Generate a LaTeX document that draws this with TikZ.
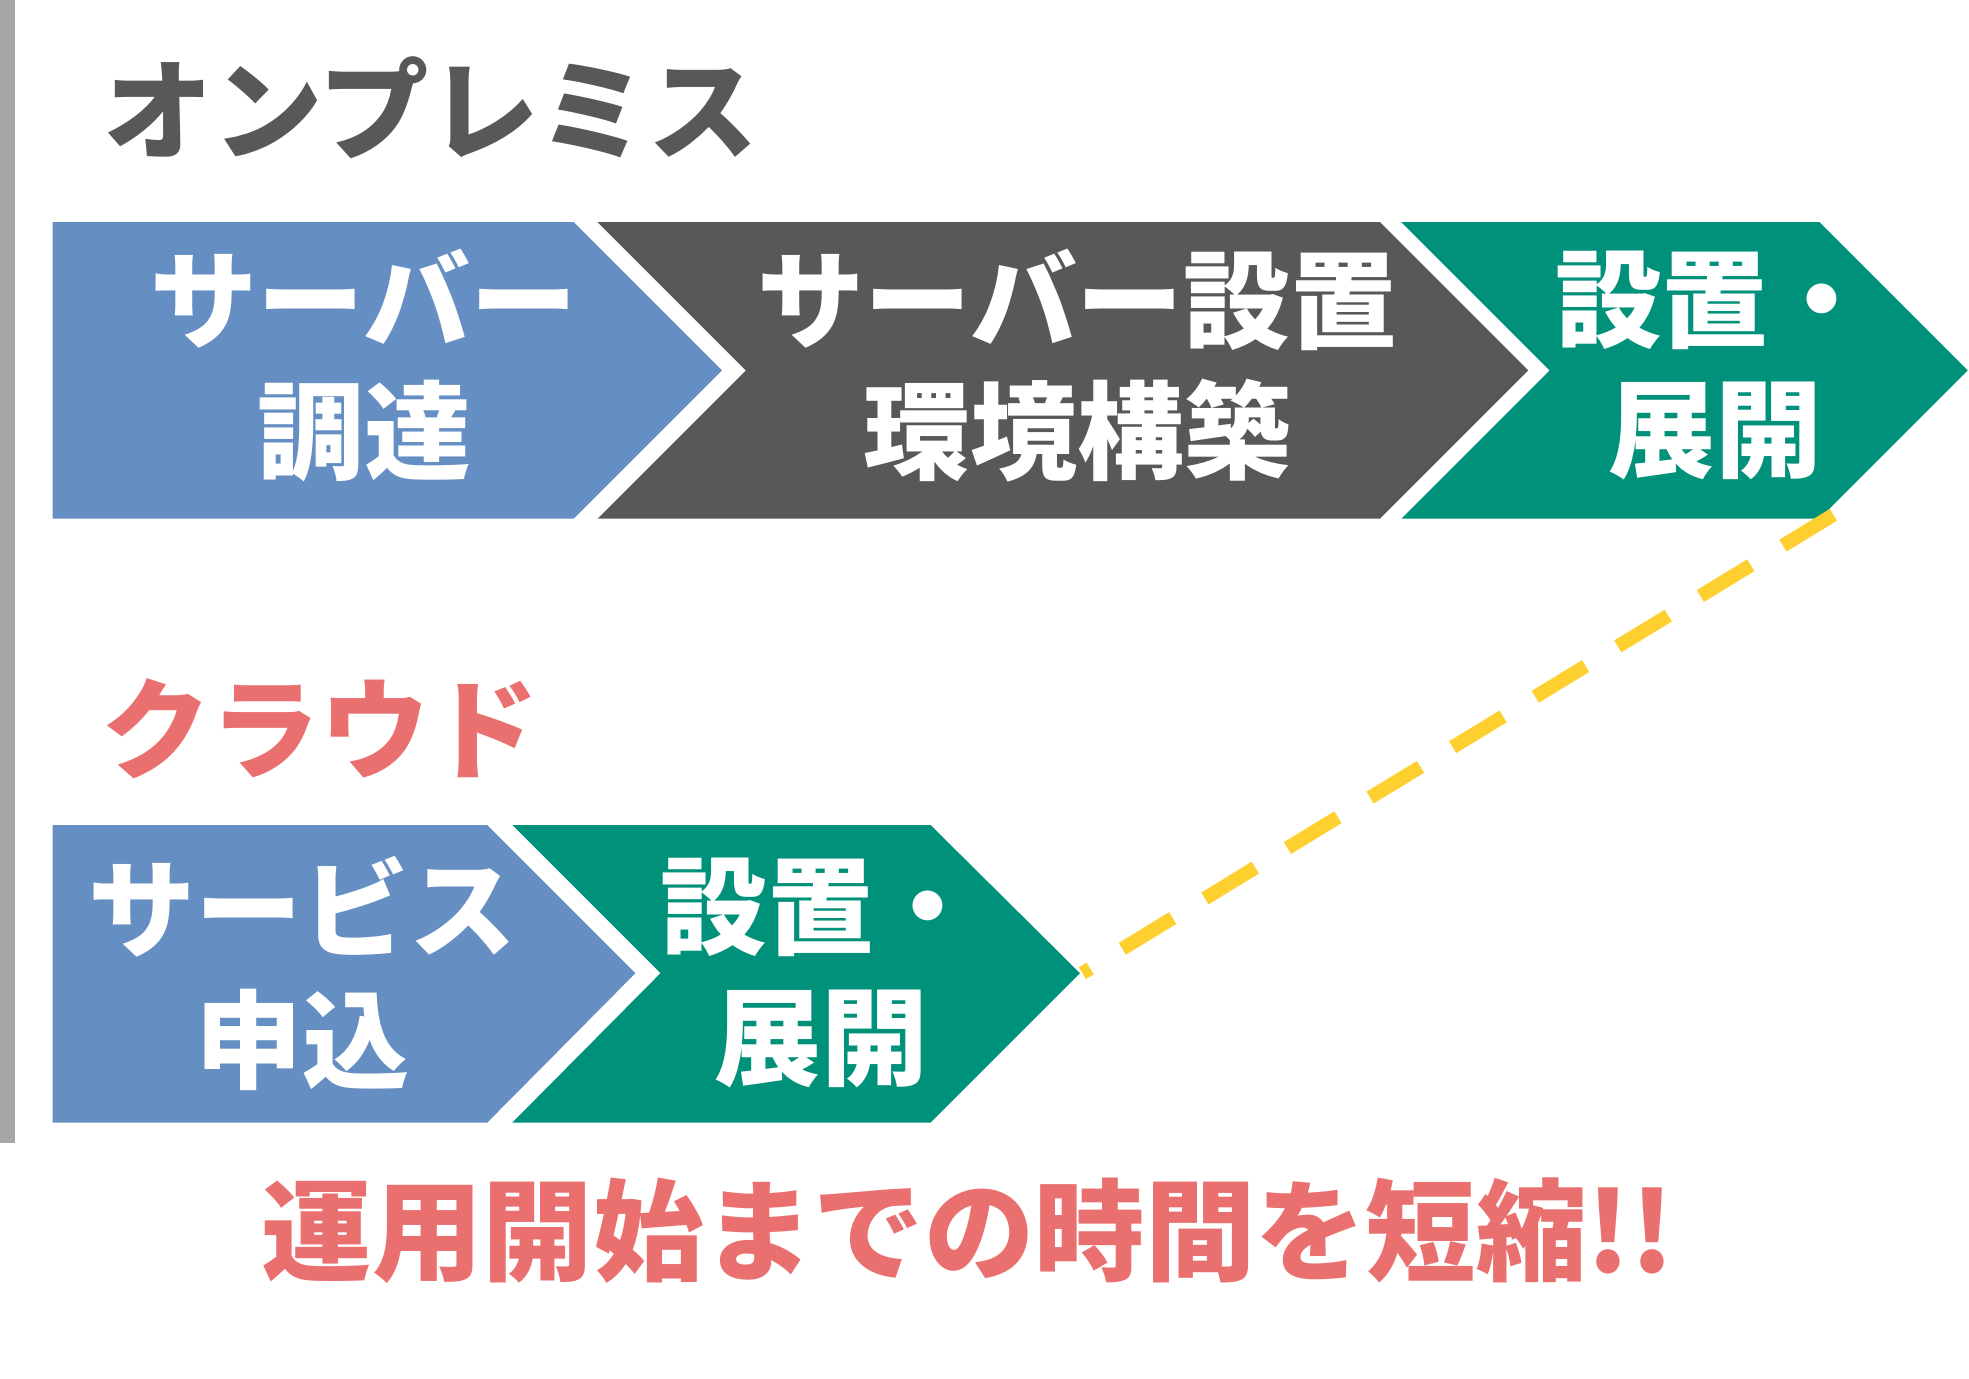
\documentclass[tikz,border=0pt]{standalone}
\usepackage{fontspec}
\setmainfont{Noto Sans CJK JP}
\usepackage{tikz}
\definecolor{planblue}{RGB}{101,142,194}
\definecolor{plangray}{RGB}{89,87,87}
\definecolor{plangreen}{RGB}{0,145,122}
\definecolor{plansalmon}{RGB}{234,112,112}
\definecolor{planyellow}{RGB}{253,208,47}
\definecolor{planbar}{RGB}{166,166,166}

\begin{document}
\begin{tikzpicture}[x=0.01cm,y=-0.01cm,
    steptext/.style={text=white,align=center,font=\fontsize{24.2}{29.6}\selectfont\bfseries},
    headtext/.style={font=\fontsize{24.8}{30}\selectfont\bfseries}]
          \useasboundingbox (0,0) rectangle (1568,1098);
          \fill [planbar] (0,0) rectangle (12,910);
          % on-premises row
          \fill [planblue] (42,177) -- (457,177) -- (575,295) -- (457,413) -- (42,413) -- cycle;
          \fill [plangray] (476,177) -- (1099,177) -- (1217,295) -- (1099,413) -- (476,413) -- (594,295) -- cycle;
          \fill [plangreen] (1116,177) -- (1449,177) -- (1567,295) -- (1449,413) -- (1116,413) -- (1234,295) -- cycle;
          % cloud row
          \fill [planblue] (42,657) -- (388,657) -- (506,775) -- (388,894) -- (42,894) -- cycle;
          \fill [plangreen] (408,657) -- (741,657) -- (860,775) -- (741,894) -- (408,894) -- (526,775) -- cycle;
          \node [headtext,text=plangray] (onprem) at (343,86) {オンプレミス};
          \node [headtext,text=plansalmon] (cloud) at (255,580) {クラウド};
          \node [steptext] (procure) at (290,291) {サーバー\\調達};
          \node [steptext] (setup) at (858,291) {サーバー設置\\環境構築};
          \node [steptext] (deploy) at (1366,291) {設置・\\展開};
          \node [steptext] (apply) at (241,775) {サービス\\申込};
          \node [steptext] (clouddeploy) at (654,775) {設置・\\展開};
          \coordinate (onpremend) at (1460,410);
          \coordinate (cloudend) at (862,775);
          \draw [planyellow,line width=0.11cm,dash pattern=on 0.47cm off 0.30cm] (onpremend) -- (cloudend);
          \node [headtext,text=plansalmon,font=\fontsize{25}{30}\selectfont\bfseries] (shorten) at (771,980) {運用開始までの時間を短縮!!};
        \end{tikzpicture}
\end{document}
